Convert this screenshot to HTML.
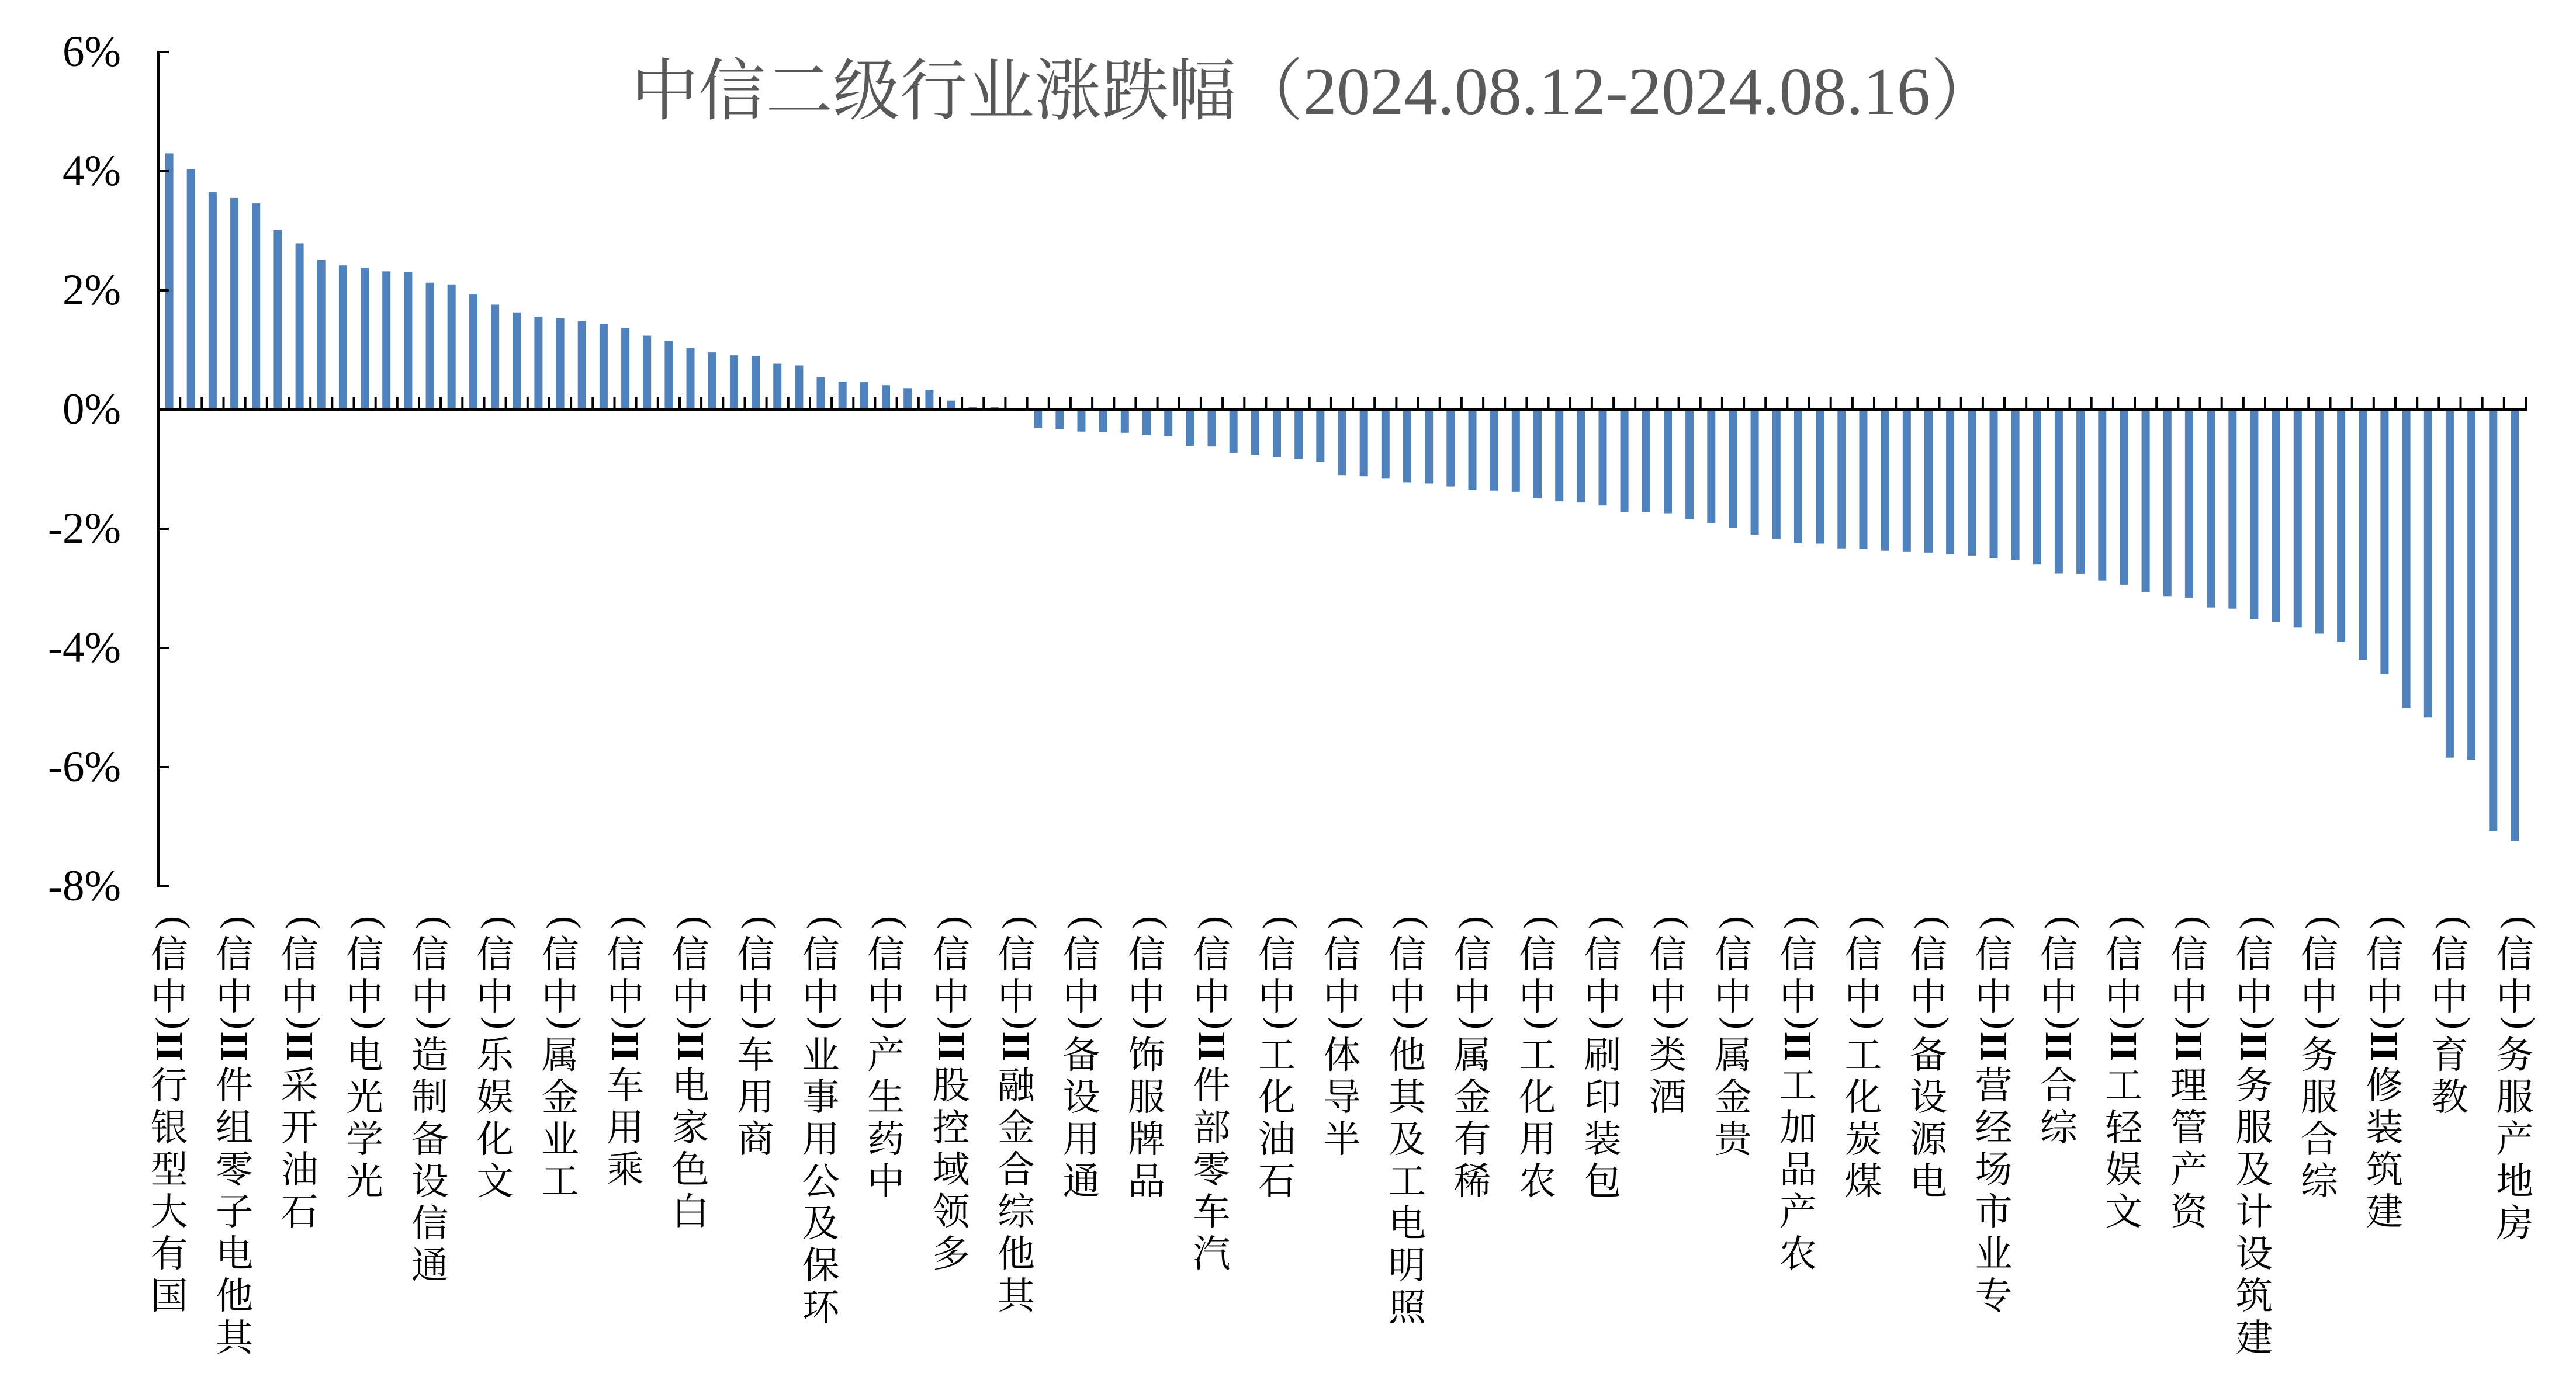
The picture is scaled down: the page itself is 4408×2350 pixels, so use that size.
<!DOCTYPE html>
<html><head><meta charset="utf-8">
<style>
html,body{margin:0;padding:0;background:#fff;}
#c{position:relative;width:4408px;height:2350px;overflow:hidden;background:#fff;}
.ylab{position:absolute;right:4201px;font-family:"Liberation Serif",serif;font-size:75px;color:#000;line-height:80px;height:80px;text-align:right;white-space:nowrap;}
.lab{position:absolute;top:1565px;width:80px;display:flex;flex-direction:column;align-items:center;color:#000;}
.cj{display:block;font-family:"Noto Serif CJK SC",serif;font-size:64px;line-height:72px;height:72px;}
.rt{display:block;position:relative;width:72px;}
.rt span{position:absolute;left:50%;top:50%;transform:translate(-50%,-50%) rotate(-90deg);font-family:"Liberation Serif",serif;font-size:66px;line-height:66px;white-space:nowrap;}
.rt span.b{font-weight:bold;}
#title{position:absolute;left:1080px;top:92px;font-family:"Liberation Serif","Noto Serif CJK SC",serif;font-size:115px;color:#595959;white-space:nowrap;line-height:130px;}
</style></head><body>
<div id="c">
<div id="title">中信二级行业涨跌幅（2024.08.12-2024.08.16）</div>
<svg id="s" width="4408" height="2350" style="position:absolute;left:0;top:0"></svg>
</div>
<script>
var v=[4.30,4.03,3.65,3.55,3.46,3.01,2.79,2.51,2.42,2.38,2.32,2.31,2.13,2.10,1.93,1.76,1.63,1.56,1.53,1.49,1.44,1.37,1.24,1.15,1.03,0.96,0.91,0.90,0.77,0.74,0.54,0.47,0.46,0.41,0.36,0.33,0.15,0.04,0.04,0.0,
-0.31,-0.33,-0.37,-0.38,-0.39,-0.43,-0.45,-0.61,-0.62,-0.73,-0.76,-0.80,-0.83,-0.88,-1.10,-1.12,-1.15,-1.22,-1.24,-1.29,-1.35,-1.36,-1.38,-1.49,-1.54,-1.56,-1.61,-1.72,-1.72,-1.74,-1.84,-1.91,-1.99,
-2.10,-2.17,-2.24,-2.25,-2.33,-2.34,-2.37,-2.38,-2.40,-2.43,-2.45,-2.49,-2.52,-2.60,-2.75,-2.76,-2.87,-2.94,-3.06,-3.13,-3.16,-3.32,-3.34,-3.52,-3.56,-3.66,-3.76,-3.90,-4.20,-4.44,-5.01,-5.17,-5.84,-5.88,-7.07,-7.24];
var L=["国有大型银行II(中信)","其他电子零组件II(中信)","石油开采II(中信)","光学光电(中信)","通信设备制造(中信)","文化娱乐(中信)","工业金属(中信)","乘用车II(中信)","白色家电II(中信)","商用车(中信)","环保及公用事业(中信)","中药生产(中信)","多领域控股II(中信)","其他综合金融II(中信)","通用设备(中信)","品牌服饰(中信)","汽车零部件II(中信)","石油化工(中信)","半导体(中信)","照明电工及其他(中信)","稀有金属(中信)","农用化工(中信)","包装印刷(中信)","酒类(中信)","贵金属(中信)","农产品加工II(中信)","煤炭化工(中信)","电源设备(中信)","专业市场经营II(中信)","综合II(中信)","文娱轻工II(中信)","资产管理II(中信)","建筑设计及服务II(中信)","综合服务(中信)","建筑装修II(中信)","教育(中信)","房地产服务(中信)"];
var X0=271,X1=4322,N=v.length,st=(X1-X0)/N,Y0=701,U=102;
var h='';
for(var i=0;i<N;i++){var cx=X0+st*(i+0.5);var y=Y0-v[i]*U;var t=Math.min(y,Y0),hh=Math.abs(Y0-y);
h+='<rect x="'+(cx-7).toFixed(1)+'" y="'+t.toFixed(1)+'" width="14" height="'+hh.toFixed(1)+'" fill="#4F81BD"/>';}
for(var i=0;i<=N;i++){var x=X0+st*i;h+='<rect x="'+(x-2).toFixed(1)+'" y="679" width="4" height="22" fill="#000"/>';}
h+='<rect x="'+X0+'" y="698.5" width="'+(X1-X0+2)+'" height="5" fill="#000"/>';
h+='<rect x="269" y="89" width="4" height="1430" fill="#000"/>';
var c=document.getElementById('c');
for(var k=0;k<8;k++){var yy=89+k*204;h+='<rect x="269" y="'+(yy-2)+'" width="20" height="4" fill="#000"/>';
var d=document.createElement('div');d.className='ylab';d.style.top=(yy-40)+'px';d.textContent=(6-2*k)+'%';c.appendChild(d);}
document.getElementById('s').innerHTML=h;
for(var j=0;j<L.length;j++){var s=L[j];var toks=[];var m=0;
while(m<s.length){if(s[m]=='I'){var q='';while(s[m]=='I'){q+='I';m++;}toks.push(q);}else{toks.push(s[m]);m++;}}
toks.reverse();var d=document.createElement('div');d.className='lab';d.style.left=(X0+st*(3*j+0.5)-40).toFixed(1)+'px';
var inn='';toks.forEach(function(t){
 if(t=='('||t==')')inn+='<div class="rt" style="height:28px"><span>'+t+'</span></div>';
 else if(t[0]=='I')inn+='<div class="rt" style="height:52px"><span class="b">'+t+'</span></div>';
 else inn+='<span class="cj">'+t+'</span>';});
d.innerHTML=inn;c.appendChild(d);}
</script>
</body></html>
